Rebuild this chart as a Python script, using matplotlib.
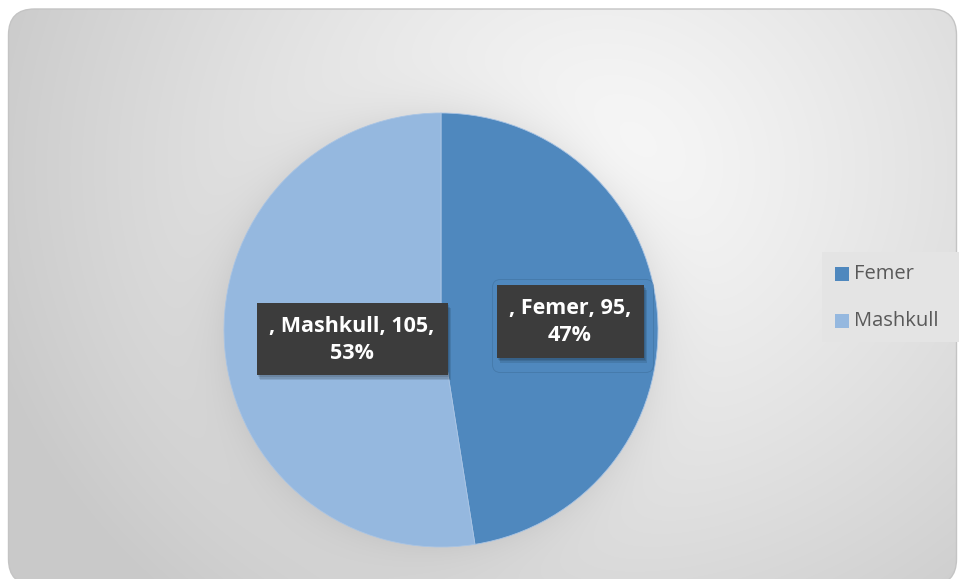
import numpy as np
import matplotlib
matplotlib.use("Agg")
import matplotlib.pyplot as plt
from matplotlib.patches import FancyBboxPatch, Rectangle

categories = ["Femer", "Mashkull"]
values = [95, 105]
percents = [47, 53]
colors = ["#4F88BE", "#95B8DF"]

W, H = 959, 579
fig = plt.figure(figsize=(W / 100, H / 100), dpi=100)
fig.patch.set_facecolor("white")
ax = fig.add_axes([0, 0, 1, 1])

center = (441, H - 330)
radius = 217

# background radial gradient in rounded rectangle
yy, xx = np.mgrid[0:H, 0:W]
cx, cy = 600, H - 170
d = np.sqrt((xx - cx) ** 2 + ((yy - cy) * 1.1) ** 2)
d = np.clip(d / 640.0, 0, 1)
c0, c1 = 0.975, 0.79
g = c0 + (c1 - c0) * d ** 1.2
# soft shadow around pie
rp = np.sqrt((xx - center[0]) ** 2 + (yy - center[1]) ** 2)
sh = np.exp(-np.clip(rp - radius, 0, None) / 22.0) * 0.06
g = g - sh
img = np.dstack([g, g, g])
bg = FancyBboxPatch((8.5, -6), W - 11, H - 9 + 6,
                    boxstyle="round,pad=0,rounding_size=26",
                    facecolor="none", edgecolor="#c4c4c4", lw=1.0, zorder=1)
ax.add_patch(bg)
im = ax.imshow(img, extent=(0, W, 0, H), origin="lower", zorder=0, interpolation="bilinear")
im.set_clip_path(bg)

# pie
wedges, _ = ax.pie(values, colors=colors, startangle=90, counterclock=False,
                   center=center, radius=radius, frame=True,
                   wedgeprops=dict(edgecolor="#a9c4e4", linewidth=0.6))
for w in wedges:
    w.set_zorder(3)
ax.set_xlim(0, W)
ax.set_ylim(0, H)
ax.set_aspect("equal")
ax.axis("off")

label_pos = [(570, H - 321), (352, H - 339)]
box_sizes = [(147, 73), (191, 72)]
for i, (cat, v, p, (lx, ly), (bw, bh)) in enumerate(zip(categories, values, percents, label_pos, box_sizes)):
    if i == 0:
        ax.add_patch(FancyBboxPatch((lx - bw / 2 - 4, ly - bh / 2 - 15), bw + 14, bh + 20,
                                    boxstyle="round,pad=0,rounding_size=8",
                                    facecolor="none", edgecolor="#3f6f9c", lw=0.6,
                                    alpha=0.6, zorder=4))
    # shadow
    for k, a in enumerate([0.10, 0.10, 0.10]):
        ax.add_patch(Rectangle((lx - bw / 2 + 1 + k, ly - bh / 2 - 2 - 1.5 * k), bw, bh,
                               facecolor="#000000", alpha=a, edgecolor="none", zorder=4))
    ax.add_patch(Rectangle((lx - bw / 2, ly - bh / 2), bw, bh,
                           facecolor="#3c3c3c", edgecolor="none", zorder=5))
    ax.text(lx, ly - 1, f", {cat}, {v},\n{p}%", ha="center", va="center",
            color="white", fontsize=15.5, fontweight="bold", family="Open Sans",
            linespacing=1.35, zorder=6)

# legend
ax.add_patch(Rectangle((822, H - 342), 140, 90, facecolor="#e4e4e4",
                       edgecolor="none", zorder=3))
leg_y = [H - 274, H - 321]
for cat, col, y in zip(categories, colors, leg_y):
    ax.add_patch(Rectangle((835, y - 7), 14, 14, facecolor=col, edgecolor="none", zorder=4))
    ax.text(854, y, cat, ha="left", va="center", fontsize=14.5, color="#595959",
            family="Open Sans", zorder=4)

fig.savefig("out.png", dpi=100, facecolor="white")
